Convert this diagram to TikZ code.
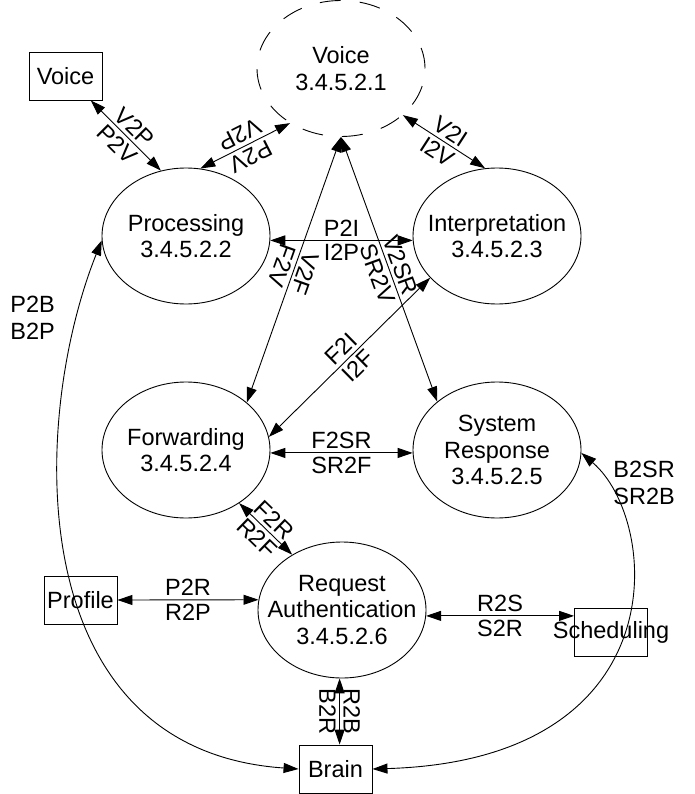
\documentclass[tikz,border=0pt]{standalone}
\usepackage{fontspec}
\setmainfont{Liberation Sans}
\usetikzlibrary{arrows.meta,shapes.geometric,calc}

\tikzset{
  proc/.style={ellipse, draw, minimum width=168pt, minimum height=136pt, inner sep=0pt},
  ext/.style={rectangle, draw, minimum width=73pt, minimum height=48pt, inner sep=1pt},
  txt/.style={align=center, inner sep=0pt},
  flow/.style={<->, >={Triangle[length=15pt,width=10pt]}},
  lbl/.style={sloped, allow upside down, inner sep=3.5pt},
}

\begin{document}
\begin{tikzpicture}[x=1pt, y=-1pt, line width=0.9pt, font=\fontsize{23.5}{26.7}\selectfont]
        % 全体の大きさ
        \useasboundingbox (0,0) rectangle (694,794);
        % プロセスの楕円
        \node[proc, dash pattern=on 21pt off 19pt] (voice) at (341,68.5) {};
        \node[proc] (proc) at (186,236) {};
        \node[proc] (interp) at (497,236) {};
        \node[proc] (fwd) at (186,450) {};
        \node[proc] (sysresp) at (497,450) {};
        \node[proc] (reqauth) at (342,610) {};
        % 楕円の中の文字
        \node[txt] (voice-t) at (voice) {Voice\\3.4.5.2.1};
        \node[txt] (proc-t) at (proc) {Processing\\3.4.5.2.2};
        \node[txt] (interp-t) at (interp) {Interpretation\\3.4.5.2.3};
        \node[txt] (fwd-t) at (fwd) {Forwarding\\3.4.5.2.4};
        \node[txt] (sysresp-t) at (sysresp) {System\\Response\\3.4.5.2.5};
        \node[txt] (reqauth-t) at (reqauth) {Request\\Authentication\\3.4.5.2.6};
        % 外部の箱
        \node[ext] (vbox) at (65.5,76) {Voice};
        \node[ext] (profile) at (80.5,600) {Profile};
        \node[ext] (sched) at (611,632.5) {};
        \node[txt] (sched-t) at (sched) {Scheduling};
        \node[ext] (brain) at (335.5,769) {Brain};
        % 直線の矢印
        \draw[flow] (vbox.-44) -- node[lbl, above] {V2P} node[lbl, below] {P2V} (proc.111);
        \draw[flow] (voice.227) -- node[lbl, above] {P2V} node[lbl, below] {V2P} (proc.78);
        \draw[flow] (voice.-37) -- node[lbl, above] {V2I} node[lbl, below] {I2V} (interp.100);
        \draw[flow] (proc.-3) -- node[lbl, above] {P2I} node[lbl, below] {I2P} (interp.183);
        \draw[flow] (voice.-90) -- node[lbl, above] {V2F} node[lbl, below] {F2V} (fwd.38);
        \draw[flow] (voice.-90) -- node[lbl, above] {V2SR} node[lbl, below] {SR2V} (sysresp.141);
        \draw[flow] (fwd.9) -- node[lbl, above] {F2I} node[lbl, below] {I2F} (interp.212);
        \draw[flow] (fwd.-2) -- node[lbl, above] {F2SR} node[lbl, below] {SR2F} (sysresp.182);
        \draw[flow] (fwd.-45) -- node[lbl, above] {F2R} node[lbl, below] {R2F} (reqauth.132);
        \draw[flow] (profile.east) -- node[lbl, above] {P2R} node[lbl, below] {R2P} (reqauth.173);
        \draw[flow] (reqauth.-4) -- node[lbl, above] {R2S} node[lbl, below] {S2R} (reqauth.-4 -| sched.west);
        \draw[flow] (reqauth.-92) -- node[lbl, above] {R2B} node[lbl, below] {B2R} (reqauth.-92 |- brain.north);
        % Brainへの曲線
        \draw[flow] (proc.183) .. controls (30,420) and (20,750) .. (brain.west);
        \draw[flow] (sysresp.-2) .. controls (660,520) and (680,760) .. (brain.east);
        \node[txt, align=left, anchor=west] (p2b) at (10,318) {P2B\\B2P};
        \node[txt, align=left, anchor=west] (b2sr) at (613,483) {B2SR\\SR2B};
\end{tikzpicture}
\end{document}
